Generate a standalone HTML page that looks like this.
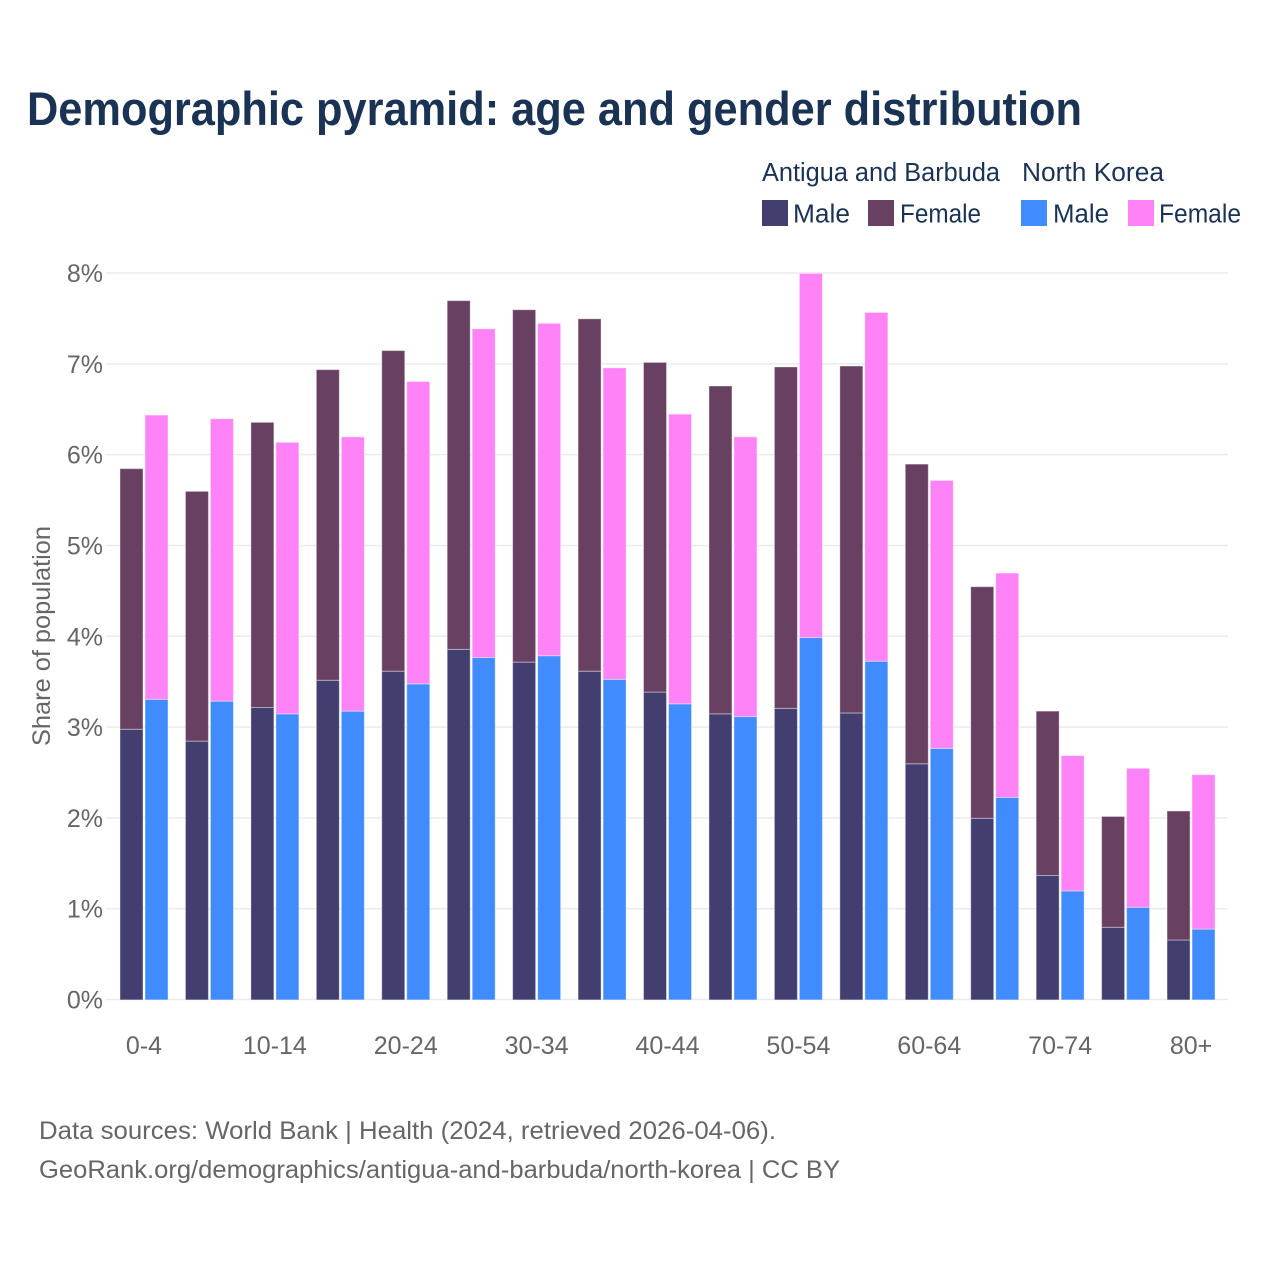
<!DOCTYPE html>
<html lang="en">
<head>
<meta charset="utf-8">
<title>Demographic pyramid</title>
<style>
html,body{margin:0;padding:0;background:#fff;width:1280px;height:1280px;overflow:hidden}
svg{display:block;font-family:"Liberation Sans",sans-serif}
</style>
</head>
<body>
<svg id="chart" width="1280" height="1280" viewBox="0 0 1280 1280" xmlns="http://www.w3.org/2000/svg">
  <rect width="1280" height="1280" fill="#fff"/>
  <text x="27" y="125" font-size="47" font-weight="700" fill="#1a3354" textLength="1055" lengthAdjust="spacingAndGlyphs">Demographic pyramid: age and gender distribution</text>

  <g font-size="25.5" fill="#1a3354">
    <text x="762" y="181" textLength="238" lengthAdjust="spacingAndGlyphs">Antigua and Barbuda</text>
    <text x="1022" y="181" textLength="142" lengthAdjust="spacingAndGlyphs">North Korea</text>
    <rect x="762" y="200" width="26" height="26" fill="#433e70"/>
    <text x="793" y="222.5" textLength="57" lengthAdjust="spacingAndGlyphs">Male</text>
    <rect x="868" y="200" width="26" height="26" fill="#684062"/>
    <text x="900" y="222.5" textLength="81" lengthAdjust="spacingAndGlyphs">Female</text>
    <rect x="1021" y="200" width="26" height="26" fill="#408cff"/>
    <text x="1053" y="222.5" textLength="56" lengthAdjust="spacingAndGlyphs">Male</text>
    <rect x="1128" y="200" width="26" height="26" fill="#ff83f7"/>
    <text x="1159" y="222.5" textLength="82" lengthAdjust="spacingAndGlyphs">Female</text>
  </g>

  <g id="grid"></g>
  <g id="yticks" font-size="25" fill="#666" text-anchor="end"></g>
  <text transform="translate(50,636) rotate(-90)" font-size="25" fill="#666" text-anchor="middle" textLength="220" lengthAdjust="spacingAndGlyphs">Share of population</text>
  <g id="bars"></g>
  <g id="xticks" font-size="25" fill="#666" text-anchor="middle"></g>

  <g font-size="25" fill="#666">
    <text x="39" y="1139" textLength="737" lengthAdjust="spacingAndGlyphs">Data sources: World Bank | Health (2024, retrieved 2026-04-06).</text>
    <text x="39" y="1178" textLength="801" lengthAdjust="spacingAndGlyphs">GeoRank.org/demographics/antigua-and-barbuda/north-korea | CC BY</text>
  </g>
</svg>
<script>
const categories = ["0-4","5-9","10-14","15-19","20-24","25-29","30-34","35-39","40-44","45-49","50-54","55-59","60-64","65-69","70-74","75-79","80+"];
const xTickLabels = ["0-4","10-14","20-24","30-34","40-44","50-54","60-64","70-74","80+"];
const yTickValues = [0,1,2,3,4,5,6,7,8];
const antiguaMale = [2.98,2.85,3.22,3.52,3.62,3.86,3.72,3.62,3.39,3.15,3.21,3.16,2.60,2.00,1.37,0.80,0.66];
const antiguaFemale = [2.87,2.75,3.14,3.42,3.53,3.84,3.88,3.88,3.63,3.61,3.76,3.82,3.30,2.55,1.81,1.22,1.42];
const koreaMale = [3.31,3.29,3.15,3.18,3.48,3.77,3.79,3.53,3.26,3.12,3.99,3.73,2.77,2.23,1.20,1.02,0.78];
const koreaFemale = [3.13,3.11,2.99,3.02,3.33,3.62,3.66,3.43,3.19,3.08,4.01,3.84,2.95,2.47,1.49,1.53,1.70];

const NS = "http://www.w3.org/2000/svg";
const plotLeft = 106, plotRight = 1228, plotBottom = 999.5, plotTop = 273;
const yMax = 8;
const firstBarX = 120, groupStep = 65.44, barWidth = 23, barOffset = 25;
function yScale(v){ return plotBottom - (v / yMax) * (plotBottom - plotTop); }
function groupX(i){ return firstBarX + i * groupStep; }

const grid = document.getElementById("grid");
const yticks = document.getElementById("yticks");
yTickValues.forEach(function(v){
  const line = document.createElementNS(NS,"line");
  
  
  line.setAttribute("x1", plotLeft);
  line.setAttribute("x2", plotRight);
  line.setAttribute("y1", yScale(v));
  line.setAttribute("y2", yScale(v));
  line.setAttribute("stroke", "#ebebeb");
  line.setAttribute("stroke-width", "1.5");
  grid.appendChild(line);
  const t = document.createElementNS(NS,"text");
  
  
  t.setAttribute("x", 103);
  t.setAttribute("y", yScale(v) + 9);
  t.textContent = v + "%";
  yticks.appendChild(t);
});

const bars = document.getElementById("bars");
function addBar(x, base, value, fill, name){
  const r = document.createElementNS(NS,"rect");
  
  
  r.setAttribute("x", x);
  r.setAttribute("y", yScale(base + value) + 0.4);
  r.setAttribute("width", barWidth);
  r.setAttribute("height", yScale(base) - yScale(base + value));
  r.setAttribute("fill", fill);
  r.setAttribute("stroke", "#ffffff");
  r.setAttribute("stroke-opacity", "0.4");
  r.setAttribute("stroke-width", "1");
  bars.appendChild(r);
}
categories.forEach(function(c, i){
  const x = groupX(i);
  addBar(x, 0, antiguaMale[i], "#433e70", "bar-antigua-male");
  addBar(x, antiguaMale[i], antiguaFemale[i], "#684062", "bar-antigua-female");
  addBar(x + barOffset, 0, koreaMale[i], "#408cff", "bar-north-korea-male");
  addBar(x + barOffset, koreaMale[i], koreaFemale[i], "#ff83f7", "bar-north-korea-female");
});

const xticks = document.getElementById("xticks");
xTickLabels.forEach(function(label){
  const i = categories.indexOf(label);
  const t = document.createElementNS(NS,"text");
  
  
  t.setAttribute("x", groupX(i) + 24);
  t.setAttribute("y", 1054);
  t.textContent = label;
  xticks.appendChild(t);
});
</script>
</body>
</html>
